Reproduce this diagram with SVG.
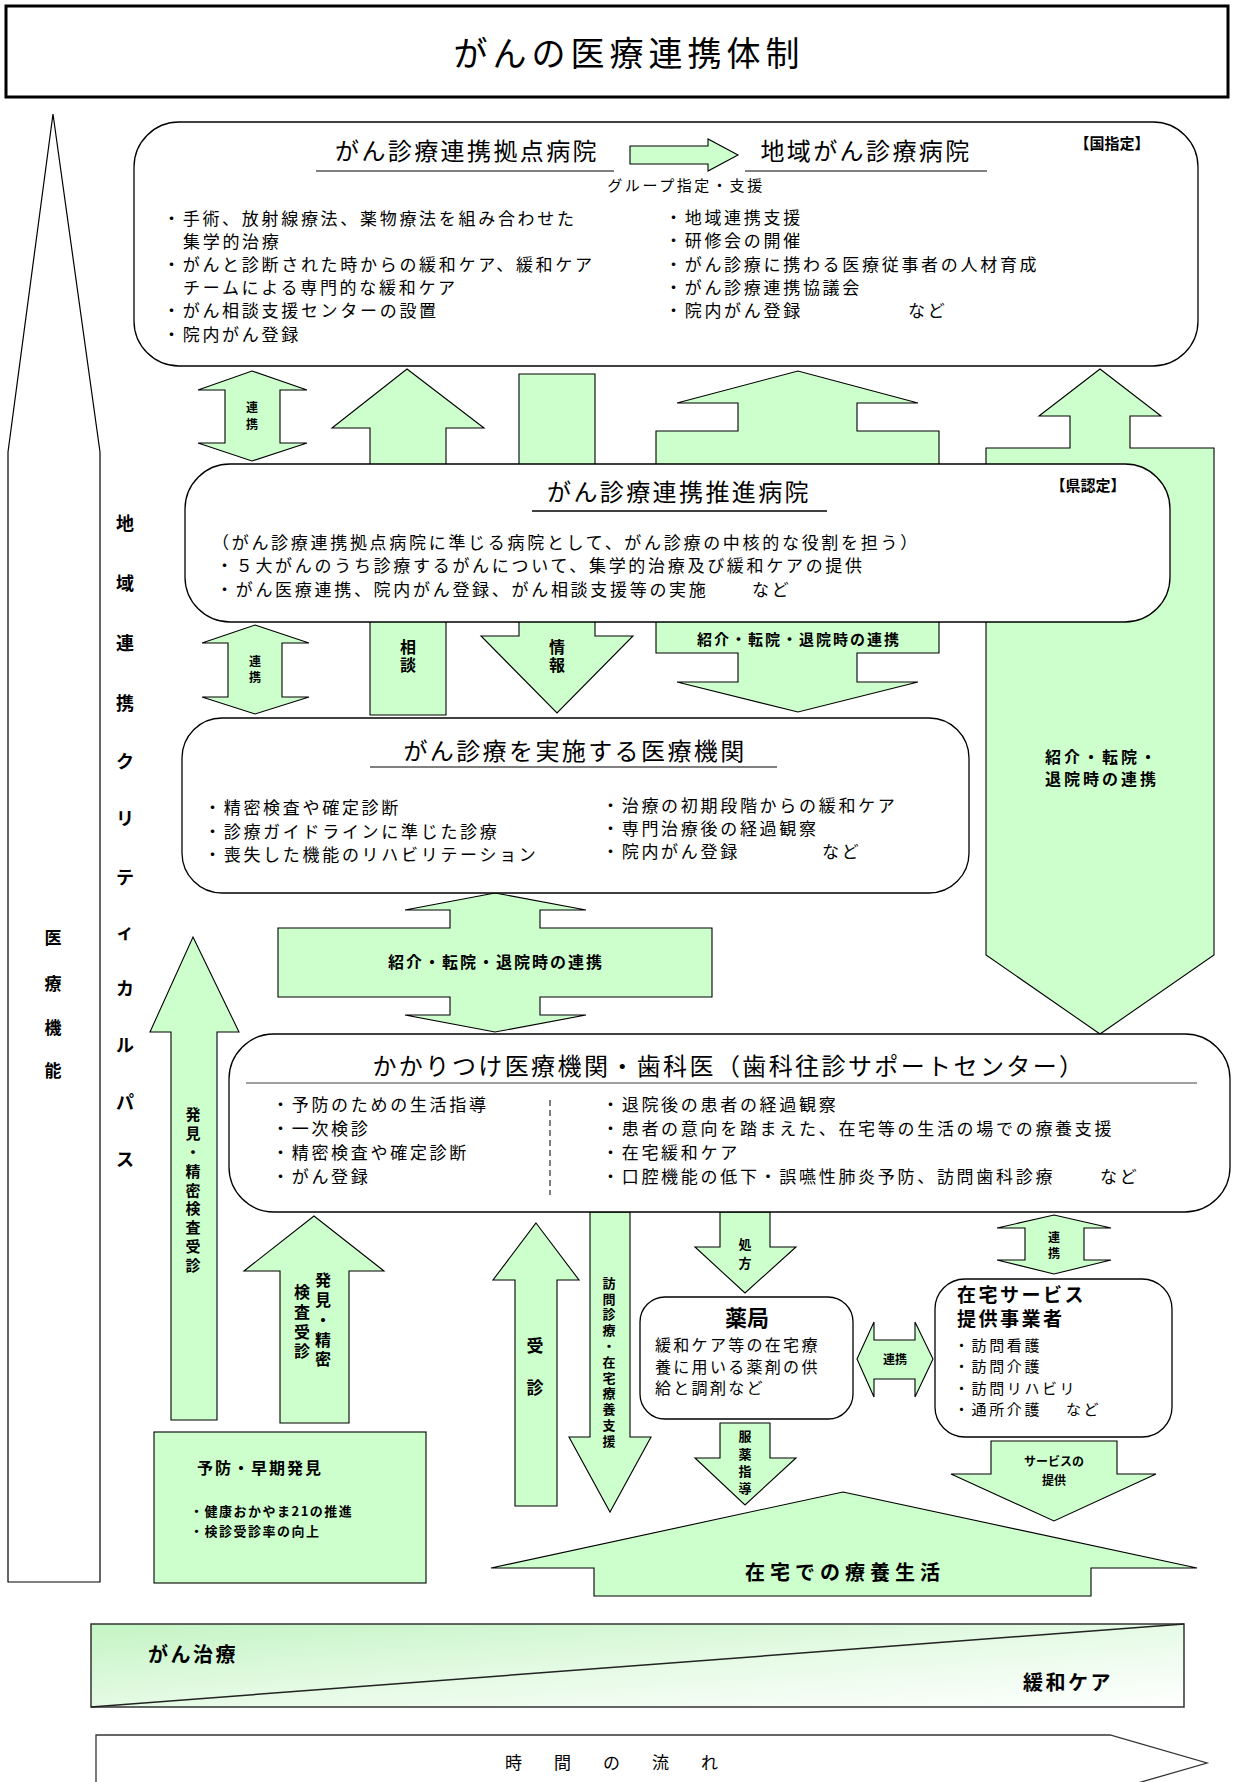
<svg xmlns="http://www.w3.org/2000/svg" width="1235" height="1782" viewBox="0 0 1235 1782">
<defs>
<style>
text{font-family:"Noto Sans CJK JP","Noto Sans CJK SC",sans-serif;fill:#000}
.bd{font-size:17px;letter-spacing:2.7px}
.ttl{font-size:24px;letter-spacing:2.4px;text-anchor:middle}
.lb{font-weight:bold}
.c{text-anchor:middle}
.box{fill:#fff;stroke:#000;stroke-width:1.3}
.ar{fill:#ccffcc;stroke:#000;stroke-width:1.1}
.ul{stroke:#808080;stroke-width:2}
</style>
<linearGradient id="g" x1="0" y1="0" x2="1" y2="1">
<stop offset="0" stop-color="#c4f4c4"/>
<stop offset="0.55" stop-color="#e8fbe8"/>
<stop offset="1" stop-color="#ffffff"/>
</linearGradient>
</defs>
<rect width="1235" height="1782" fill="#fff"/>

<g id="title">
<rect x="6" y="6" width="1222" height="91" fill="#fff" stroke="#000" stroke-width="3"/>
<text x="629" y="66" font-size="34" letter-spacing="5" class="c">がんの医療連携体制</text>
</g>

<g id="axis-function">
<polygon points="53,114 100,452 100,1582 8,1582 8,452" fill="#fff" stroke="#000" stroke-width="1.2"/>
<text class="lb c" font-size="17" x="53 53 53 53" y="944 990 1034 1077">医療機能</text>
</g>
<g id="axis-path">
<text class="lb c" font-size="18" x="125 125 125 125 125 125 125 125 125 125 125 125" y="530 590 650 710 768 825 884 939 995 1052 1109 1166">地域連携クリティカルパス</text>
</g>

<g id="connectors">
<polygon class="ar" points="252,371 307,390 280,390 280,443 307,443 252,461 198,443 225,443 225,390 198,390"/>
<text class="lb c" font-size="12" x="252 252" y="412 429">連携</text>
<polygon class="ar" points="407,369 484,428 446,428 446,715 370,715 370,428 332,428"/>
<text class="lb c" font-size="16" x="408 408" y="653 671">相談</text>
<polygon class="ar" points="519,374 595,374 595,636 633,636 557,713 481,636 519,636"/>
<text class="lb c" font-size="16" x="557 557" y="653 671">情報</text>
<polygon class="ar" points="656,431 738,431 738,403 677,403 798,371 918,403 857,403 857,431 939,431 939,653 857,653 857,682 918,682 798,712 677,682 738,682 738,653 656,653"/>
<text class="lb c" font-size="15" letter-spacing="2" x="799" y="645">紹介・転院・退院時の連携</text>
<polygon class="ar" points="1100,369 1161,416 1130,416 1130,448 1214,448 1214,955 1100,1034 986,955 986,448 1070,448 1070,416 1039,416"/>
<text class="lb c" font-size="16" letter-spacing="3" x="1102" y="763">紹介・転院・</text>
<text class="lb c" font-size="16" letter-spacing="3" x="1102" y="785">退院時の連携</text>
<polygon class="ar" points="255,625 309,643 282,643 282,697 309,697 255,714 202,697 228,697 228,643 202,643"/>
<text class="lb c" font-size="12" x="255 255" y="666 682">連携</text>
<polygon class="ar" points="495,893 586,910 540,910 540,928 712,928 712,997 540,997 540,1015 586,1015 495,1032 405,1015 450,1015 450,997 278,997 278,928 450,928 450,910 405,910"/>
<text class="lb c" font-size="16" letter-spacing="2" x="496" y="968">紹介・転院・退院時の連携</text>
<polygon class="ar" points="193,937 239,1032 217,1032 217,1420 171,1420 171,1032 150,1032"/>
<text class="lb c" font-size="15" x="193 193 193 193 193 193 193 193 193" y="1120 1139 1158 1177 1196 1214 1233 1252 1271">発見・精密検査受診</text>
<polygon class="ar" points="314,1216 384,1271 349,1271 349,1423 280,1423 280,1271 244,1271"/>
<text class="lb c" font-size="16" x="323 323 323 323 323" y="1286 1306 1326 1346 1365">発見・精密</text>
<text class="lb c" font-size="16" x="302 302 302 302" y="1298 1318 1338 1357">検査受診</text>
<polygon class="ar" points="536,1223 579,1280 557,1280 557,1506 515,1506 515,1280 493,1280"/>
<text class="lb c" font-size="17" x="535 535" y="1352 1394">受診</text>
<polygon class="ar" points="590,1212 630,1212 630,1437 651,1437 610,1512 569,1437 590,1437"/>
<text class="lb c" font-size="13" x="609 609 609 609 609 609 609 609 609 609 609" y="1288 1304 1319 1335 1351 1367 1383 1398 1414 1430 1446">訪問診療・在宅療養支援</text>
<polygon class="ar" points="720,1212 770,1212 770,1247 796,1247 745,1293 695,1247 720,1247"/>
<text class="lb c" font-size="13" x="745 745" y="1249 1268">処方</text>
<polygon class="ar" points="720,1423 770,1423 770,1458 796,1458 745,1505 695,1458 720,1458"/>
<text class="lb c" font-size="13" x="745 745 745 745" y="1441 1459 1476 1493">服薬指導</text>
<polygon class="ar" points="857,1359 874,1322 874,1340 915,1340 915,1322 933,1359 915,1397 915,1379 874,1379 874,1397"/>
<text class="lb c" font-size="12" x="895" y="1364">連携</text>
<polygon class="ar" points="1054,1215 1111,1228 1084,1228 1084,1260 1111,1260 1054,1274 997,1260 1025,1260 1025,1228 997,1228"/>
<text class="lb c" font-size="12" x="1054 1054" y="1242 1258">連携</text>
<polygon class="ar" points="991,1441 1117,1441 1117,1474 1156,1474 1054,1521 951,1474 991,1474"/>
<text class="lb c" font-size="12" x="1054" y="1466">サービスの</text>
<text class="lb c" font-size="12" x="1054" y="1485">提供</text>
<polygon class="ar" points="843,1492 1197,1568 1091,1568 1091,1596 594,1596 594,1568 491,1568"/>
<text class="lb c" font-size="20" letter-spacing="5" x="845" y="1580">在宅での療養生活</text>
</g>

<g id="node-kyoten">
<rect class="box" x="134" y="122" width="1064" height="244" rx="45"/>
<text class="ttl" x="467" y="160">がん診療連携拠点病院</text>
<line class="ul" x1="316" y1="171" x2="614" y2="171"/>
<polygon class="ar" points="630,146 708,146 708,139 738,155 708,171 708,164 630,164"/>
<text class="ttl" x="866" y="160">地域がん診療病院</text>
<line class="ul" x1="745" y1="171" x2="987" y2="171"/>
<text class="lb c" font-size="15" x="1112" y="149">【国指定】</text>
<text class="c" font-size="15" letter-spacing="2.6" x="686" y="191">グループ指定・支援</text>
<text class="bd" x="163" y="225">・手術、放射線療法、薬物療法を組み合わせた</text>
<text class="bd" x="183" y="248">集学的治療</text>
<text class="bd" x="163" y="271">・がんと診断された時からの緩和ケア、緩和ケア</text>
<text class="bd" x="183" y="294">チームによる専門的な緩和ケア</text>
<text class="bd" x="163" y="317">・がん相談支援センターの設置</text>
<text class="bd" x="163" y="341">・院内がん登録</text>
<text class="bd" x="665" y="224">・地域連携支援</text>
<text class="bd" x="665" y="247">・研修会の開催</text>
<text class="bd" x="665" y="271">・がん診療に携わる医療従事者の人材育成</text>
<text class="bd" x="665" y="294">・がん診療連携協議会</text>
<text class="bd" x="665" y="317">・院内がん登録</text>
<text class="bd" x="908" y="317">など</text>
</g>

<g id="node-suishin">
<rect class="box" x="185" y="464" width="985" height="158" rx="45"/>
<text class="ttl" x="679" y="501">がん診療連携推進病院</text>
<line x1="532" y1="511" x2="827" y2="511" stroke="#000" stroke-width="1.5"/>
<text class="lb c" font-size="15" x="1088" y="491">【県認定】</text>
<text class="bd" x="212" y="549">（がん診療連携拠点病院に準じる病院として、がん診療の中核的な役割を担う）</text>
<text class="bd" x="216" y="572">・５大がんのうち診療するがんについて、集学的治療及び緩和ケアの提供</text>
<text class="bd" x="216" y="596">・がん医療連携、院内がん登録、がん相談支援等の実施</text>
<text class="bd" x="752" y="596">など</text>
</g>

<g id="node-jisshi">
<rect class="box" x="182" y="718" width="787" height="175" rx="40"/>
<text class="ttl" font-size="25" letter-spacing="2.6" x="575" y="760">がん診療を実施する医療機関</text>
<line class="ul" x1="370" y1="767" x2="777" y2="767"/>
<text class="bd" x="204" y="814">・精密検査や確定診断</text>
<text class="bd" x="204" y="838">・診療ガイドラインに準じた診療</text>
<text class="bd" x="204" y="861">・喪失した機能のリハビリテーション</text>
<text class="bd" x="602" y="812">・治療の初期段階からの緩和ケア</text>
<text class="bd" x="602" y="835">・専門治療後の経過観察</text>
<text class="bd" x="602" y="858">・院内がん登録</text>
<text class="bd" x="822" y="858">など</text>
</g>

<g id="node-kakaritsuke">
<rect class="box" x="229" y="1034" width="1001" height="178" rx="45"/>
<text class="ttl" letter-spacing="1.8" x="729" y="1075">かかりつけ医療機関・歯科医（歯科往診サポートセンター）</text>
<line x1="246" y1="1083" x2="1197" y2="1083" stroke="#808080" stroke-width="1.5"/>
<text class="bd" x="272" y="1111">・予防のための生活指導</text>
<text class="bd" x="272" y="1135">・一次検診</text>
<text class="bd" x="272" y="1159">・精密検査や確定診断</text>
<text class="bd" x="272" y="1183">・がん登録</text>
<line x1="550" y1="1100" x2="550" y2="1195" stroke="#000" stroke-width="1" stroke-dasharray="6,4"/>
<text class="bd" x="602" y="1111">・退院後の患者の経過観察</text>
<text class="bd" x="602" y="1135">・患者の意向を踏まえた、在宅等の生活の場での療養支援</text>
<text class="bd" x="602" y="1159">・在宅緩和ケア</text>
<text class="bd" x="602" y="1183">・口腔機能の低下・誤嚥性肺炎予防、訪問歯科診療</text>
<text class="bd" x="1100" y="1183">など</text>
</g>

<g id="node-yakkyoku">
<rect class="box" x="640" y="1297" width="213" height="122" rx="25"/>
<text class="lb c" font-size="22" x="747" y="1326">薬局</text>
<text font-size="16" letter-spacing="2.3" x="655" y="1351">緩和ケア等の在宅療</text>
<text font-size="16" letter-spacing="2.3" x="655" y="1373">養に用いる薬剤の供</text>
<text font-size="16" letter-spacing="2.3" x="655" y="1394">給と調剤など</text>
</g>

<g id="node-zaitaku-service">
<rect class="box" x="935" y="1279" width="237" height="158" rx="30"/>
<text class="lb" font-size="19" letter-spacing="2.5" x="957" y="1302">在宅サービス</text>
<text class="lb" font-size="19" letter-spacing="2.5" x="957" y="1326">提供事業者</text>
<text font-size="15" letter-spacing="2.6" x="954" y="1351">・訪問看護</text>
<text font-size="15" letter-spacing="2.6" x="954" y="1372">・訪問介護</text>
<text font-size="15" letter-spacing="2.6" x="954" y="1394">・訪問リハビリ</text>
<text font-size="15" letter-spacing="2.6" x="954" y="1415">・通所介護</text>
<text font-size="15" letter-spacing="2.6" x="1066" y="1415">など</text>
</g>

<g id="node-yobou">
<rect x="154" y="1432" width="272" height="151" fill="#ccffcc" stroke="#000" stroke-width="1.1"/>
<text class="lb" font-size="16" letter-spacing="2" x="197" y="1474">予防・早期発見</text>
<text class="lb" font-size="13" letter-spacing="1.5" x="190" y="1516">・健康おかやま21の推進</text>
<text class="lb" font-size="13" letter-spacing="1.5" x="190" y="1536">・検診受診率の向上</text>
</g>

<g id="node-shift">
<rect x="91" y="1624" width="1093" height="83" fill="url(#g)" stroke="#333" stroke-width="1.5"/>
<line x1="91" y1="1707" x2="1184" y2="1624" stroke="#222" stroke-width="1.5"/>
<text class="lb" font-size="20" letter-spacing="2.5" x="148" y="1662">がん治療</text>
<text class="lb" font-size="20" letter-spacing="2.5" x="1023" y="1690">緩和ケア</text>
</g>

<g id="node-time">
<polygon points="96,1790 96,1735 1110,1735 1207,1763 1110,1791" fill="#fff" stroke="#333" stroke-width="1.3"/>
<text font-size="17" letter-spacing="32" x="505" y="1769" fill="#333">時間の流れ</text>
</g>
</svg>
